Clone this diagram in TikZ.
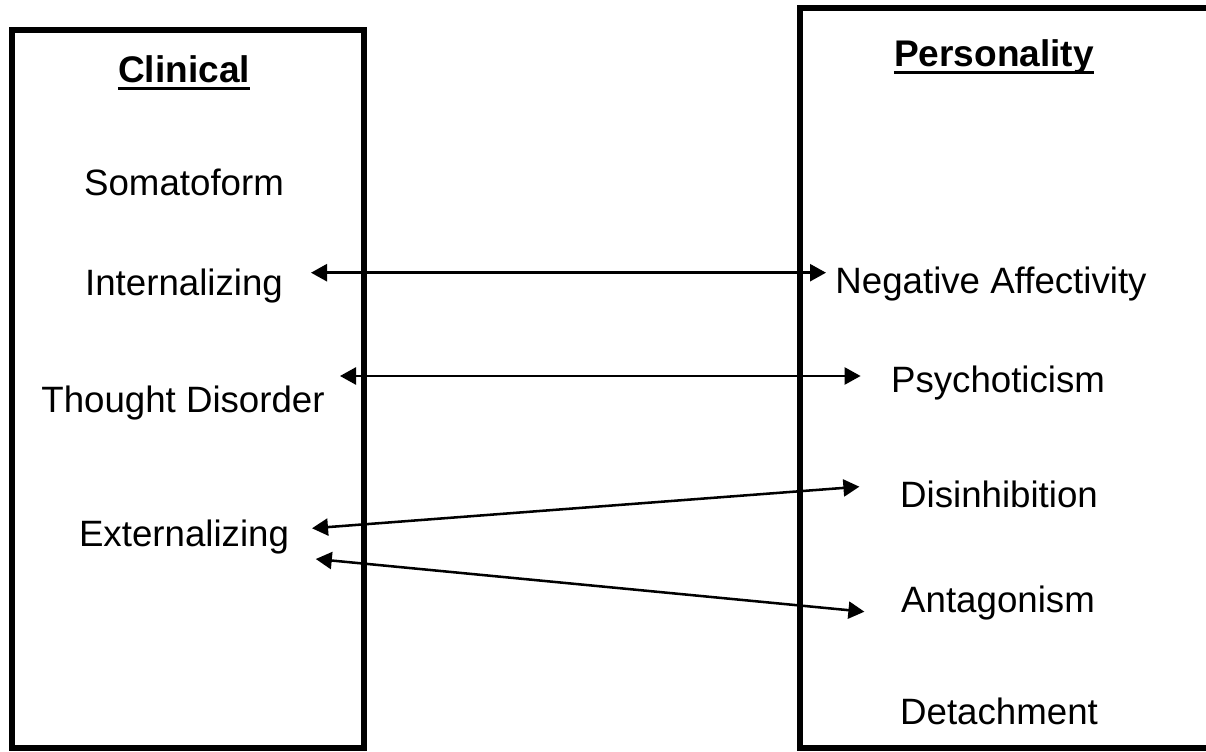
\documentclass[tikz,border=0pt]{standalone}
\usepackage{fontspec}
\setmainfont{Liberation Sans}
\usetikzlibrary{arrows.meta}
\begin{document}
\begin{tikzpicture}[x=0.75pt,y=-0.75pt,
  box/.style={draw=black,line width=4.5pt},
  lbl/.style={anchor=base,inner sep=0pt,font=\fontsize{27.5}{33}\selectfont},
  head/.style={anchor=base,inner sep=0pt,font=\fontsize{27.8}{33}\selectfont\bfseries},
  uline/.style={line width=1.9pt},
  link/.style={line width=1.9pt,{Triangle[length=12pt,width=12.75pt]}-{Triangle[length=12pt,width=12.75pt]}}]
\useasboundingbox (0,0) rectangle (1206,752);
\clip (0,0) rectangle (1206,752);
% boxes
\draw[box] (11.5,30) rectangle (364,748);
\draw[box] (800,8) rectangle (1220,748);
% headings
\node[head] (clin) at (184,83) {Clinical};
\node[head] (pers) at (994,67) {Personality};
\draw[uline] ([yshift=-4pt]clin.base west) -- ([yshift=-4pt]clin.base east);
\draw[uline] ([yshift=-4pt]pers.base west) -- ([yshift=-4pt]pers.base east);
% left labels
\node[lbl] (som) at (184,196) {Somatoform};
\node[lbl] (int) at (184,296) {Internalizing};
\node[lbl] (tho) at (183,412) {Thought Disorder};
\node[lbl] (ext) at (184,546) {Externalizing};
% right labels
\node[lbl] (neg) at (991,293) {Negative Affectivity};
\node[lbl] (psy) at (998,392) {Psychoticism};
\node[lbl] (dis) at (999,507) {Disinhibition};
\node[lbl] (ant) at (998,612) {Antagonism};
\node[lbl] (det) at (999,724) {Detachment};
% arrow ends
\coordinate (intE) at (311,272.7);
\coordinate (negW) at (826,272.7);
\coordinate (thoE) at (340,376);
\coordinate (psyW) at (860.6,376);
\coordinate (extE1) at (312,528.3);
\coordinate (disW) at (859.4,486.7);
\coordinate (extE2) at (315.8,559);
\coordinate (antW) at (864.4,611.7);
\draw[link] (intE) -- (negW);
\draw[link] (thoE) -- (psyW);
\draw[link] (extE1) -- (disW);
\draw[link] (extE2) -- (antW);
\end{tikzpicture}
\end{document}
